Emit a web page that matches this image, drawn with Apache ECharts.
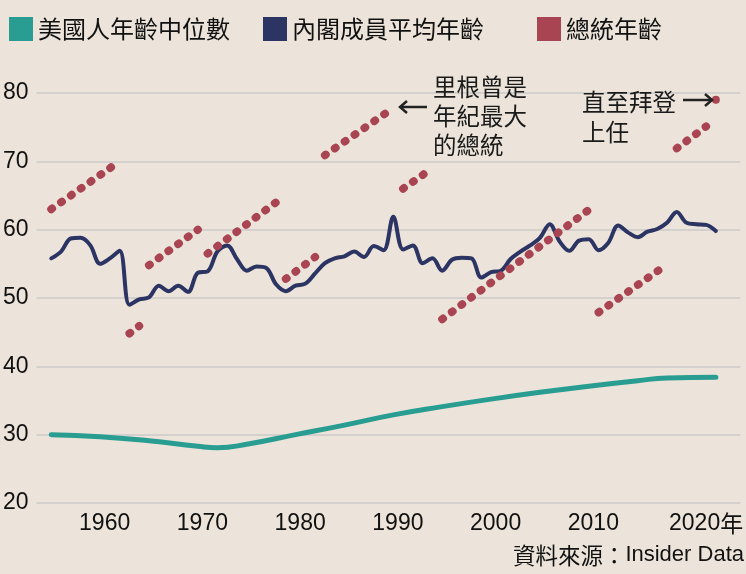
<!DOCTYPE html>
<html>
<head>
<meta charset="utf-8">
<script src="https://cdn.jsdelivr.net/npm/echarts@6/dist/echarts.min.js"></script>
<style>
  html, body { margin: 0; padding: 0; background: #ece4da; }
  #main { width: 746px; height: 574px; }
</style>
</head>
<body>
<div id="main"></div>
<script>
// 美國人年齡中位數
const medianYears = [1953, 1958, 1963, 1968, 1970, 1973, 1978, 1983, 1988, 1993, 1998, 2003, 2008, 2013, 2016, 2021];
const medianAge = [30.0, 29.7, 29.1, 28.3, 28.1, 28.6, 30.0, 31.4, 32.9, 34.1, 35.2, 36.2, 37.1, 37.9, 38.3, 38.4];

// 內閣成員平均年齡
const cabinetYears = [1953, 1954, 1955, 1956, 1957, 1958, 1959, 1960, 1961, 1962, 1963, 1964, 1965, 1966, 1967, 1968, 1969,
  1970, 1971, 1972, 1973, 1974, 1975, 1976, 1977, 1978, 1979, 1980, 1981, 1982, 1983, 1984, 1985, 1986, 1987, 1988, 1989,
  1990, 1991, 1992, 1993, 1994, 1995, 1996, 1997, 1998, 1999, 2000, 2001, 2002, 2003, 2004, 2005, 2006, 2007, 2008, 2009,
  2010, 2011, 2012, 2013, 2014, 2015, 2016, 2017, 2018, 2019, 2020, 2021];
const cabinetAge = [55.8, 56.8, 58.7, 58.8, 57.7, 55.0, 55.8, 56.9, 49.0, 49.8, 50.1, 51.8, 51.0, 51.8, 50.9, 53.7, 53.9,
  56.8, 57.7, 55.7, 54.0, 54.6, 54.4, 52.0, 51.0, 51.8, 52.1, 53.6, 55.1, 55.8, 56.1, 56.8, 56.0, 57.6, 57.0, 61.9, 57.1,
  57.7, 55.1, 55.8, 54.0, 55.6, 55.9, 55.8, 53.0, 53.8, 54.0, 55.7, 56.8, 57.7, 58.8, 60.8, 58.3, 56.9, 58.4, 58.6, 57.0,
  58.1, 60.6, 59.6, 58.9, 59.7, 60.1, 61.0, 62.6, 61.0, 60.8, 60.7, 59.8];

// 總統年齡（每段任期的起訖）
const presStartYear = [1953, 1961, 1963, 1969, 1977, 1981, 1989, 1993, 2009, 2017, 2021];
const presEndYear   = [1960, 1962, 1968, 1976, 1980, 1988, 1992, 2008, 2016, 2020, 2021];
const presStartAge  = [63.0, 44.8, 54.8, 56.5, 52.8, 70.9, 66.0, 46.9, 47.9, 71.9, 79.0];
const presEndAge    = [70.0, 45.9, 60.0, 64.0, 56.0, 77.8, 69.0, 62.9, 54.9, 75.1, 79.0];

const xTicks = [1960, 1970, 1980, 1990, 2000, 2010, 2020];

const CJK = '"Noto Sans CJK TC", "Noto Sans CJK SC", sans-serif';
const NUM = '"Liberation Sans", Arial, sans-serif';

const TEAL = '#2a9d92';
const NAVY = '#2b3462';
const RED = '#a94452';

const chart = echarts.init(document.getElementById('main'));

const zip = (xs, ys) => xs.map((x, i) => [x, ys[i]]);

const presSeries = presStartYear.map((y0, i) => {
  const single = y0 === presEndYear[i];
  return {
    name: '總統年齡',
    type: 'line',
    data: single ? [[y0, presStartAge[i]]] : [[y0, presStartAge[i]], [presEndYear[i], presEndAge[i]]],
    showSymbol: single,
    symbol: single ? 'circle' : 'none',
    symbolSize: 8,
    color: RED,
    itemStyle: { color: RED },
    lineStyle: { color: RED, width: 8, type: [1, 11], cap: 'round' },
    z: 5
  };
});

const legendBase = {
  top: 17,
  icon: 'rect',
  itemWidth: 24,
  itemHeight: 24,
  padding: 0,
  selectedMode: false,
  textStyle: { fontFamily: CJK, fontSize: 24, color: '#111' }
};

chart.setOption({
  backgroundColor: '#ece4da',
  animation: false,
  legend: [
    Object.assign({ left: 9, data: [{ name: '美國人年齡中位數', itemStyle: { color: TEAL } }] }, legendBase),
    Object.assign({ left: 263, data: [{ name: '內閣成員平均年齡', itemStyle: { color: NAVY } }] }, legendBase),
    Object.assign({ left: 537, data: [{ name: '總統年齡', itemStyle: { color: RED } }] }, legendBase)
  ],
  grid: { left: 33, right: 4, top: 93, bottom: 71 },
  xAxis: {
    type: 'value',
    min: 1951.5,
    max: 2023.5,
    axisLine: { show: false },
    axisTick: { show: false },
    splitLine: { show: false },
    axisLabel: {
      customValues: xTicks,
      margin: 9,
      color: '#111',
      fontFamily: NUM,
      fontSize: 23,
      formatter: v => v === 2020 ? '{n|2020}{c|年}' : '{p|' + v + '}',
      rich: {
        p: { fontFamily: NUM, fontSize: 23, color: '#111', padding: [0, 30, 0, 0] },
        n: { fontFamily: NUM, fontSize: 23, color: '#111' },
        c: { fontFamily: CJK, fontSize: 23, color: '#111' }
      }
    }
  },
  yAxis: {
    type: 'value',
    min: 20,
    max: 80,
    interval: 10,
    axisLine: { show: false },
    axisTick: { show: false },
    axisLabel: { margin: 8, color: '#111', fontFamily: NUM, fontSize: 23 },
    splitLine: { lineStyle: { color: '#d3d0cd', width: 2 } }
  },
  graphic: [
    {
      type: 'text', left: 433, top: 73, z: 100,
      style: { text: '里根曾是\n年紀最大\n的總統', font: '23.5px ' + CJK, lineHeight: 29, fill: '#1a1a1a' }
    },
    {
      type: 'text', left: 582, top: 87, z: 100,
      style: { text: '直至拜登\n上任', font: '23.5px ' + CJK, lineHeight: 30, fill: '#1a1a1a' }
    },
    { type: 'polyline', z: 100, shape: { points: [[427, 107], [400, 107]] }, style: { stroke: '#222', lineWidth: 2.5 } },
    { type: 'polyline', z: 100, shape: { points: [[407, 101], [400, 107], [407, 113]] }, style: { stroke: '#222', lineWidth: 2.5, fill: null } },
    { type: 'polyline', z: 100, shape: { points: [[683, 100], [712, 100]] }, style: { stroke: '#222', lineWidth: 2.5 } },
    { type: 'polyline', z: 100, shape: { points: [[705, 94], [712, 100], [705, 106]] }, style: { stroke: '#222', lineWidth: 2.5, fill: null } },
    {
      type: 'text', right: 2, top: 544, z: 100,
      style: {
        text: '{a|資料來源：}{b|Insider Data}',
        rich: {
          a: { fontFamily: CJK, fontSize: 22.5, fill: '#111' },
          b: { fontFamily: NUM, fontSize: 22, fill: '#111' }
        }
      }
    }
  ],
  series: [
    {
      name: '美國人年齡中位數',
      type: 'line',
      data: zip(medianYears, medianAge),
      smooth: true,
      showSymbol: false,
      color: TEAL,
      lineStyle: { color: TEAL, width: 5, cap: 'round' },
      z: 3
    },
    {
      name: '內閣成員平均年齡',
      type: 'line',
      data: zip(cabinetYears, cabinetAge),
      smooth: 0.35,
      showSymbol: false,
      color: NAVY,
      lineStyle: { color: NAVY, width: 4, cap: 'round', join: 'round' },
      z: 4
    }
  ].concat(presSeries)
});
</script>
</body>
</html>
